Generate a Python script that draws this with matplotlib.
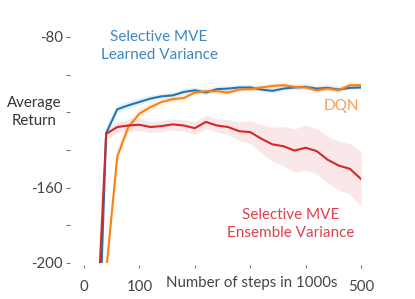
import matplotlib
matplotlib.use("Agg")
import matplotlib.pyplot as plt
import numpy as np

steps = [20, 40, 60, 80, 100, 120, 140, 160, 180, 200, 220, 240, 260, 280,
         300, 320, 340, 360, 380, 400, 420, 440, 460, 480, 500]

learned_var = [-303, -131, -118.4, -116.3, -114.5, -112.7, -111.5, -111.0, -109.2,
               -108.3, -109.5, -107.7, -107.4, -106.8, -106.8, -107.9, -108.6,
               -107.4, -106.8, -106.5, -107.4, -107.0, -107.9, -107.0, -106.8]
learned_err = [3, 3, 2, 2, 2, 1.5, 1.5, 1.5, 1.5, 1.5, 1.5, 1.5, 1.5, 1.5,
               1.5, 1.5, 1.5, 1.5, 1.5, 1.5, 1.5, 1.5, 1.5, 1.5, 1.5]

dqn = [-300, -204.6, -143.5, -127.8, -120.7, -117.2, -114.5, -113.0, -112.4,
       -109.5, -108.8, -108.8, -109.5, -107.9, -107.7, -106.8, -106.0, -105.6,
       -106.5, -106.8, -108.3, -107.4, -108.3, -105.6, -105.6]
dqn_err = [4, 4, 4, 3, 2.5, 2, 2, 1.5, 1.5, 1.5, 1.5, 1.5, 1.5, 1.5, 1.5,
           1.5, 1.5, 1.5, 1.5, 1.5, 1.5, 1.5, 1.5, 1.5, 1.5]

ensemble_var = [-254, -131.4, -127.8, -127.0, -126.6, -127.8, -127.3, -126.4, -127.0,
                -128.4, -125.1, -127.0, -127.8, -130.0, -130.5, -134.0, -137.0,
                -138.0, -140.3, -138.8, -140.6, -145.2, -148.3, -150.0, -155.4]
ensemble_err = [3, 3, 3, 3, 3, 3, 3, 3, 3, 3.5, 3.5, 3.5, 4, 5, 6, 7.5, 9,
                10.5, 11.5, 12, 12, 12.5, 13, 13.5, 14.5]

y_ticks = [-80, -100, -120, -140, -160, -180, -200]
y_ticklabels = ["-80", "", "", "", "-160", "", "-200"]
x_ticks = [0, 100, 200, 300, 400, 500]
x_ticklabels = ["0", "100", "", "", "", "500"]

plt.rcParams["font.family"] = ["Lato", "DejaVu Sans"]

W, H = 415, 299
fig = plt.figure(figsize=(W / 100, H / 100), dpi=100)
ax = fig.add_axes([84 / W, 1 - 263 / H, (361 - 84) / W, (263 - 37) / H])

series = [
    (learned_var, learned_err, "#1f77b4"),
    (dqn, dqn_err, "#ff7f0e"),
    (ensemble_var, ensemble_err, "#d62728"),
]
x = np.array(steps)
for mean, err, color in series:
    mean = np.array(mean)
    err = np.array(err)
    ax.fill_between(x, mean - err, mean + err, color=color, alpha=0.1, lw=0)
    ax.plot(x, mean, color=color, lw=1.5)

ax.set_xlim(0, 500)
ax.set_ylim(-200, -80)
ax.set_yticks(y_ticks)
ax.set_yticklabels(y_ticklabels)
ax.set_xticks(x_ticks)
ax.set_xticklabels(x_ticklabels)
for side in ["top", "right", "bottom", "left"]:
    ax.spines[side].set_visible(False)
ax.spines["left"].set_position(("outward", 10))
ax.spines["bottom"].set_position(("outward", 1.5))
ax.tick_params(axis="y", length=3, width=0.8, color="#777777", pad=2,
               labelsize=10.8, labelcolor="#444444")
ax.tick_params(axis="x", length=2, width=0.8, color="#777777", pad=9,
               labelsize=10.8, labelcolor="#444444")

fig.text(34 / W, 1 - 112 / H, "Average\nReturn", ha="center", va="center",
         fontsize=10.8, color="#333333", linespacing=1.3)
fig.text(252 / W, 1 - 283 / H, "Number of steps in 1000s", ha="center",
         va="center", fontsize=10.8, color="#444444")

fig.text(159 / W, 1 - 46 / H, "Selective MVE\nLearned Variance", ha="center",
         va="center", fontsize=11, color="#3f87c2", linespacing=1.4)
fig.text(359 / W, 1 - 106 / H, "DQN", ha="right", va="center",
         fontsize=11, color="#f99a55")
fig.text(291 / W, 1 - 224 / H, "Selective MVE\nEnsemble Variance", ha="center",
         va="center", fontsize=11, color="#e0404f", linespacing=1.4)

fig.savefig("out.png", dpi=100)
